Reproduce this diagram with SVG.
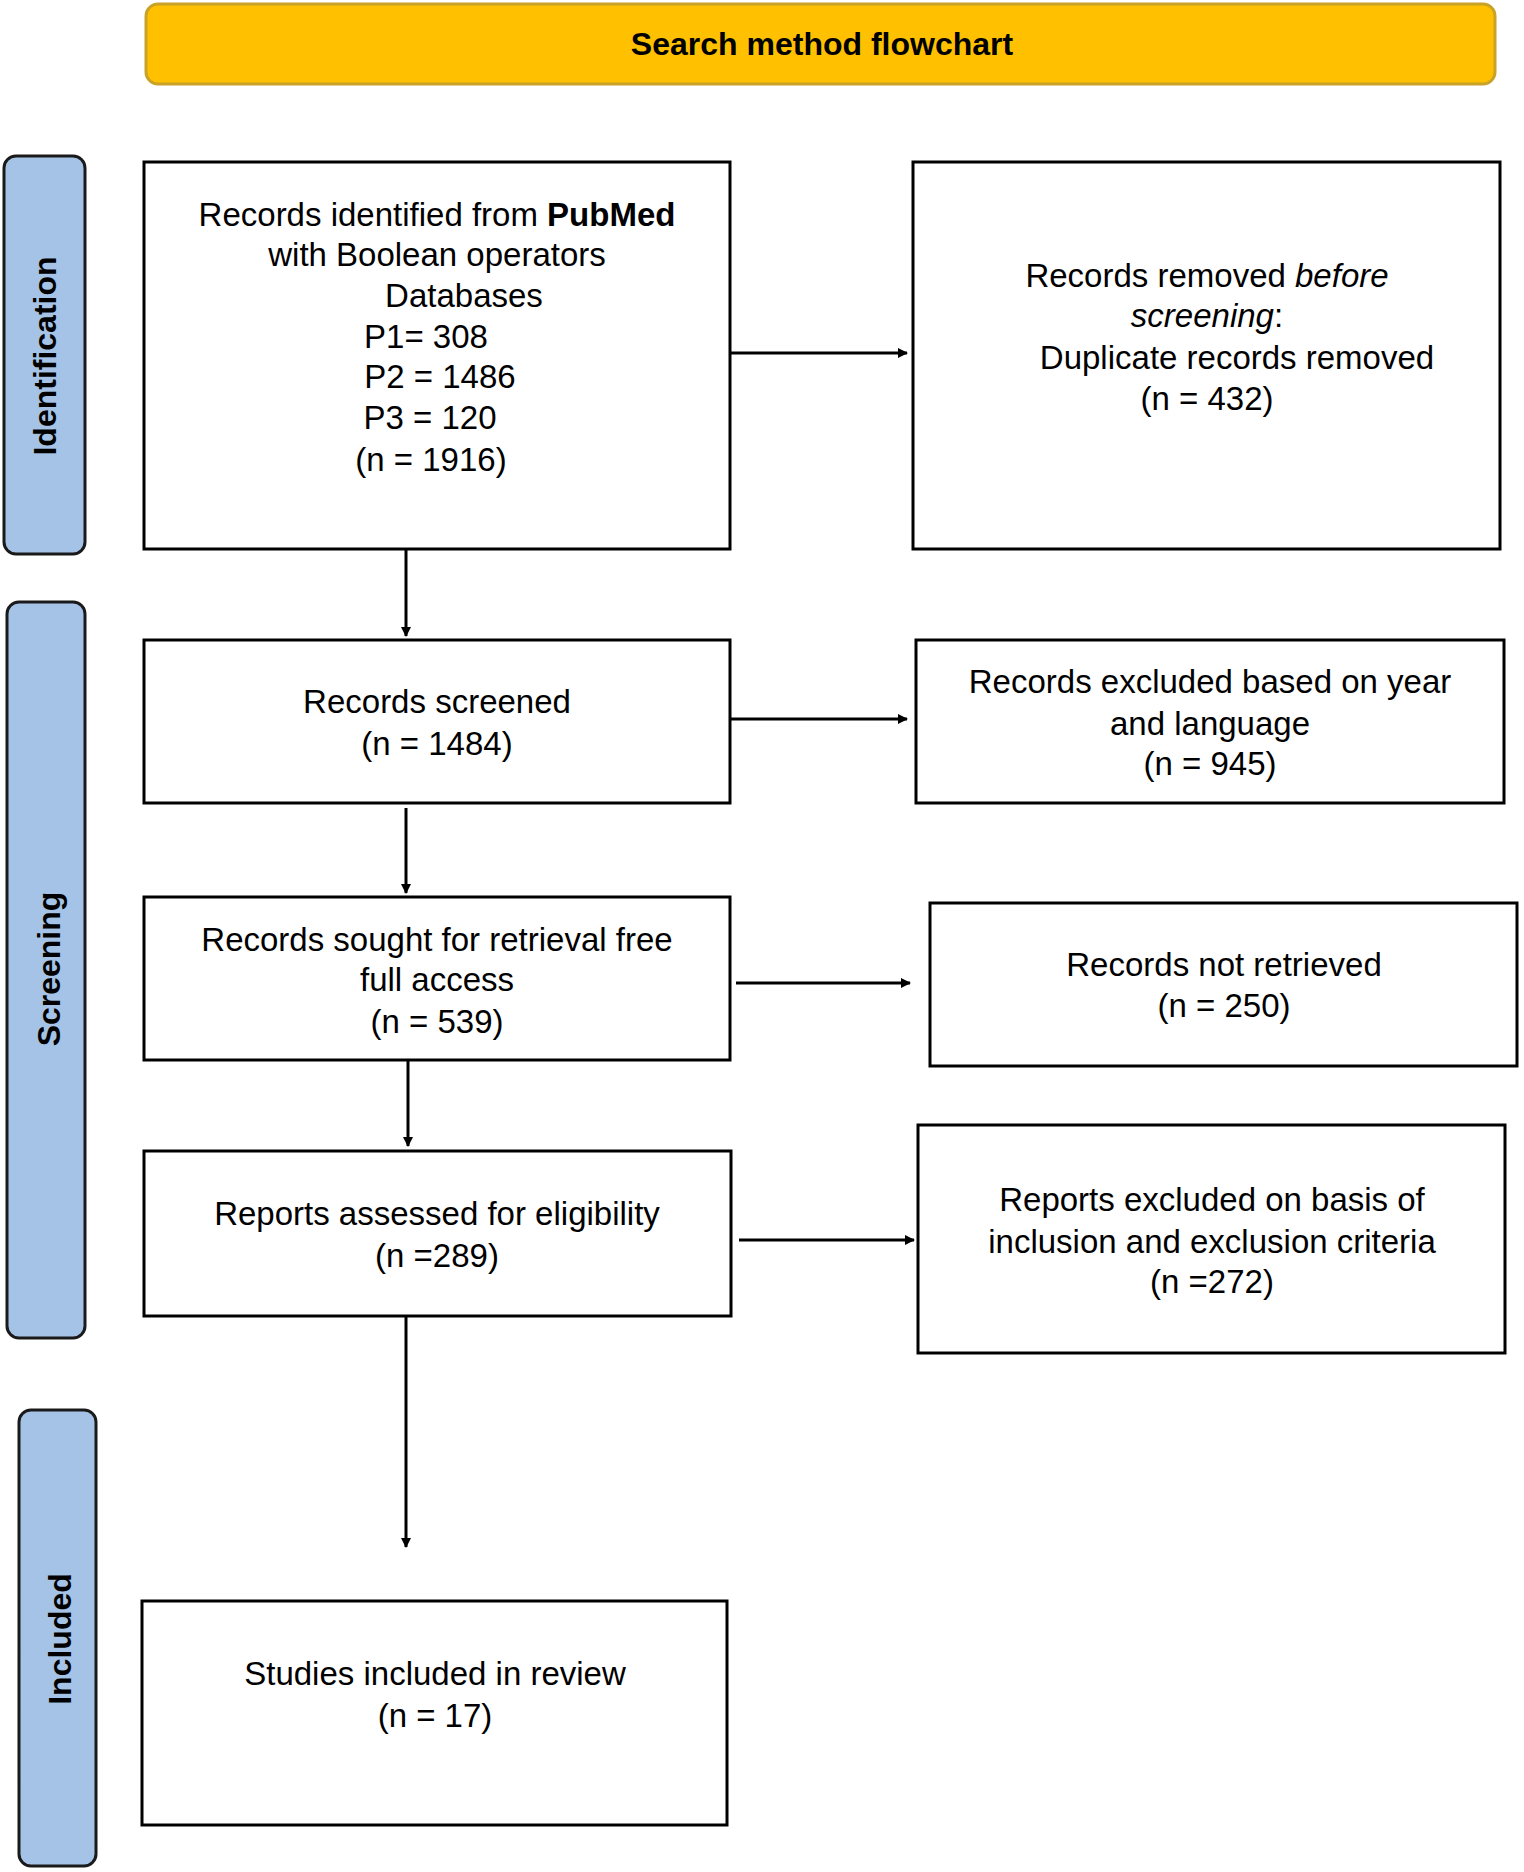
<svg xmlns="http://www.w3.org/2000/svg" width="1524" height="1872" viewBox="0 0 1524 1872">
<defs>
<marker id="ah" markerWidth="10" markerHeight="10" refX="9" refY="5" orient="auto" markerUnits="userSpaceOnUse" viewBox="0 0 10 10"><path d="M0,0 L10,5 L0,10 Z" fill="#000"/></marker>
<style>
.box{fill:#fff;stroke:#000;stroke-width:3}
.side{fill:#A4C3E6;stroke:#1a1a1a;stroke-width:3}
.t{font-family:"Liberation Sans",Arial,sans-serif;font-size:33px;fill:#000;text-anchor:middle}
.sl{font-family:"Liberation Sans",Arial,sans-serif;font-size:32px;font-weight:bold;fill:#000;text-anchor:middle}
.c{stroke:#000;stroke-width:3;fill:none}
</style>
</defs>
<rect width="1524" height="1872" fill="#fff"/>
<g id="title"><rect x="146" y="4" width="1349" height="80" rx="12" fill="#FFC000" stroke="#C9A227" stroke-width="3"/><text class="sl" x="822" y="55">Search method flowchart</text></g>
<g id="identification"><rect class="side" x="4" y="156" width="81" height="398" rx="12"/><text class="sl" transform="translate(56,356) rotate(-90)">Identification</text></g>
<g id="screening"><rect class="side" x="7" y="602" width="78" height="736" rx="12"/><text class="sl" transform="translate(60,969) rotate(-90)">Screening</text></g>
<g id="included"><rect class="side" x="19" y="1410" width="77" height="456" rx="12"/><text class="sl" transform="translate(71,1639) rotate(-90)">Included</text></g>
<g id="n1"><rect class="box" x="144" y="162" width="586" height="387"/>
<text class="t" x="437" y="226">Records identified from <tspan font-weight="bold">PubMed</tspan></text>
<text class="t" x="437" y="266">with Boolean operators</text>
<text class="t" x="464" y="307">Databases</text>
<text class="t" x="426" y="348">P1= 308</text>
<text class="t" x="440" y="388">P2 = 1486</text>
<text class="t" x="430" y="429">P3 = 120</text>
<text class="t" x="431" y="471">(n = 1916)</text></g>
<g id="r1"><rect class="box" x="913" y="162" width="587" height="387"/>
<text class="t" x="1207" y="287">Records removed <tspan font-style="italic">before</tspan></text>
<text class="t" x="1207" y="327"><tspan font-style="italic">screening</tspan>:</text>
<text class="t" x="1237" y="369">Duplicate records removed</text>
<text class="t" x="1207" y="410">(n = 432)</text></g>
<g id="n2"><rect class="box" x="144" y="640" width="586" height="163"/>
<text class="t" x="437" y="713">Records screened</text><text class="t" x="437" y="755">(n = 1484)</text></g>
<g id="r2"><rect class="box" x="916" y="640" width="588" height="163"/>
<text class="t" x="1210" y="693">Records excluded based on year</text><text class="t" x="1210" y="735">and language</text><text class="t" x="1210" y="775">(n = 945)</text></g>
<g id="n3"><rect class="box" x="144" y="897" width="586" height="163"/>
<text class="t" x="437" y="951">Records sought for retrieval free</text><text class="t" x="437" y="991">full access</text><text class="t" x="437" y="1033">(n = 539)</text></g>
<g id="r3"><rect class="box" x="930" y="903" width="587" height="163"/>
<text class="t" x="1224" y="976">Records not retrieved</text><text class="t" x="1224" y="1017">(n = 250)</text></g>
<g id="n4"><rect class="box" x="144" y="1151" width="587" height="165"/>
<text class="t" x="437" y="1225">Reports assessed for eligibility</text><text class="t" x="437" y="1267">(n =289)</text></g>
<g id="r4"><rect class="box" x="918" y="1125" width="587" height="228"/>
<text class="t" x="1212" y="1211">Reports excluded on basis of</text><text class="t" x="1212" y="1253">inclusion and exclusion criteria</text><text class="t" x="1212" y="1293">(n =272)</text></g>
<g id="n5"><rect class="box" x="142" y="1601" width="585" height="224"/>
<text class="t" x="435" y="1685">Studies included in review</text><text class="t" x="435" y="1727">(n = 17)</text></g>
<g id="connectors">
<line class="c" x1="731" y1="353" x2="907" y2="353" marker-end="url(#ah)"/>
<line class="c" x1="731" y1="719" x2="907" y2="719" marker-end="url(#ah)"/>
<line class="c" x1="736" y1="983" x2="910" y2="983" marker-end="url(#ah)"/>
<line class="c" x1="739" y1="1240" x2="914" y2="1240" marker-end="url(#ah)"/>
<line class="c" x1="406" y1="549" x2="406" y2="636" marker-end="url(#ah)"/>
<line class="c" x1="406" y1="808" x2="406" y2="893" marker-end="url(#ah)"/>
<line class="c" x1="408" y1="1060" x2="408" y2="1146" marker-end="url(#ah)"/>
<line class="c" x1="406" y1="1316" x2="406" y2="1547" marker-end="url(#ah)"/>
</g>
</svg>
